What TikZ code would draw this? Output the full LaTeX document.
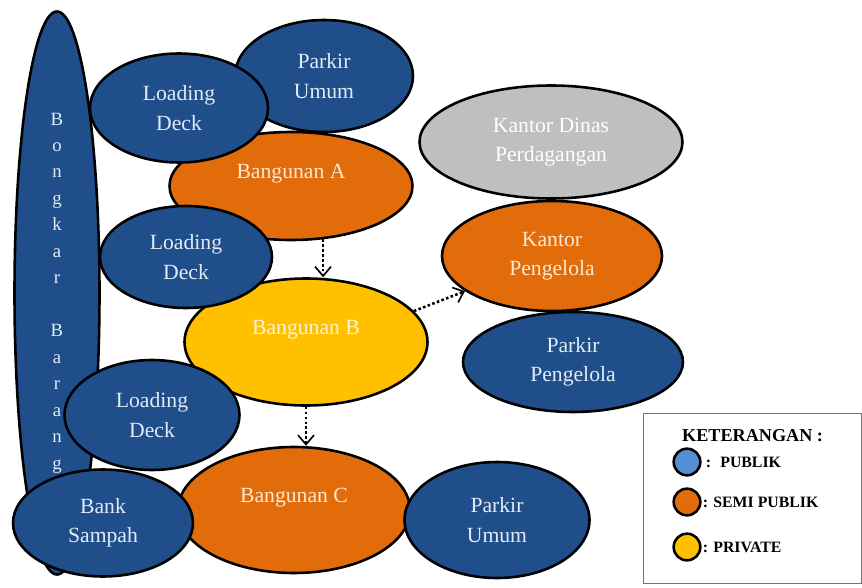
\documentclass[tikz,border=0pt]{standalone}
\usepackage{fontspec}
\setmainfont{Liberation Serif}
\usetikzlibrary{shapes.geometric,arrows.meta,positioning}
\definecolor{pubblue}{HTML}{1F4E8A}
\definecolor{pubtext}{HTML}{E2EBF6}
\definecolor{semiorange}{HTML}{E36C0A}
\definecolor{semitext}{HTML}{FDE9D3}
\definecolor{privyellow}{HTML}{FFC000}
\definecolor{privtext}{HTML}{FFF3D2}
\definecolor{dinasgray}{HTML}{BFBFBF}
\definecolor{keyblue}{HTML}{558ED5}

\begin{document}
\begin{tikzpicture}[x=0.03cm, y=-0.03cm,
        zone/.style = {ellipse, draw=black, line width=2.2pt, inner sep=0pt, align=center, font=\fontsize{18.5}{25}\selectfont},
        publik/.style = {zone, fill=pubblue, text=pubtext},
        semi/.style = {zone, fill=semiorange, text=semitext},
        private/.style = {zone, fill=privyellow, text=privtext},
        dinas/.style = {zone, fill=dinasgray, text=white},
        dims/.style 2 args = {minimum width=#1*0.03cm, minimum height=#2*0.03cm},
        flow/.style = {draw, dotted, line width=2.2pt, -{Straight Barb[length=2.8mm,width=4.8mm,line width=1.4pt]}}, % dotted links
        keydot/.style = {circle, draw=black, line width=2.2pt, minimum size=0.8cm, inner sep=0pt},
        keytext/.style = {anchor=west, inner sep=0pt, font=\bfseries\fontsize{13.5}{16}\selectfont}
    ]
        \useasboundingbox (0,0) rectangle (862,588);

        % Back row
        \node [publik, dims={85}{563}, font=\fontsize{16}{22.6}\selectfont] (bongkar) at (57,293)
            {B\\o\\n\\g\\k\\a\\r\\[22.6pt]B\\a\\r\\a\\n\\g};
        \node [publik, dims={178}{112}] (parkirA) at (324,76) {Parkir\\Umum};
        \node [semi, dims={243}{108}] (bA) at (291,186) {Bangunan A\\\mbox{}};
        \node [private, dims={243}{127}] (bB) at (306,342) {Bangunan B\\\mbox{}};
        \node [semi, dims={232}{126}] (bC) at (294,510) {Bangunan C\\\mbox{}};

        % Front row
        \node [publik, dims={178}{109}] (deck1) at (179,108) {Loading\\Deck};
        \node [publik, dims={172}{102}] (deck2) at (186,257) {Loading\\Deck};
        \node [publik, dims={175}{110}] (deck3) at (152,415) {Loading\\Deck};
        \node [publik, dims={180}{107}] (bank) at (103,523) {Bank\\Sampah};
        \node [publik, dims={185}{116}] (parkirC) at (497,520) {Parkir\\Umum};

        % Right column
        \node [dinas, dims={263}{113}] (dinas) at (551,142) {Kantor Dinas\\Perdagangan};
        \node [semi, dims={220}{110}] (kantor) at (552,256) {Kantor\\Pengelola};
        \node [publik, dims={220}{100}] (parkirP) at (573,362) {Parkir\\Pengelola};

        % Links
        \draw [flow] (bA.-59) -- (bA.-59 |- bB.north);
        \draw [flow] (bB.south) -- (bB.south |- bC.north);
        \draw [flow] (bB.16) -- (kantor.202);

        % Legend
        \node [draw=black!55, line width=0.8pt, dims={218}{170}] (legend) at (752,498) {};
        \node [anchor=west, inner sep=0pt, font=\bfseries\fontsize{15.5}{18}\selectfont] (keyhead) at (682,436) {KETERANGAN :};
        \node [keydot, fill=keyblue] (keyA) at (687,462) {};
        \node [keydot, fill=semiorange] (keyB) at (687,502) {};
        \node [keydot, fill=privyellow] (keyC) at (687,547) {};
        \node [keytext, right=0.12cm of keyA.east] (keyAtext) {:~ PUBLIK};
        \node [keytext, right=0.03cm of keyB.east] (keyBtext) {: SEMI PUBLIK};
        \node [keytext, right=0.03cm of keyC.east] (keyCtext) {: PRIVATE};
\end{tikzpicture}
\end{document}
